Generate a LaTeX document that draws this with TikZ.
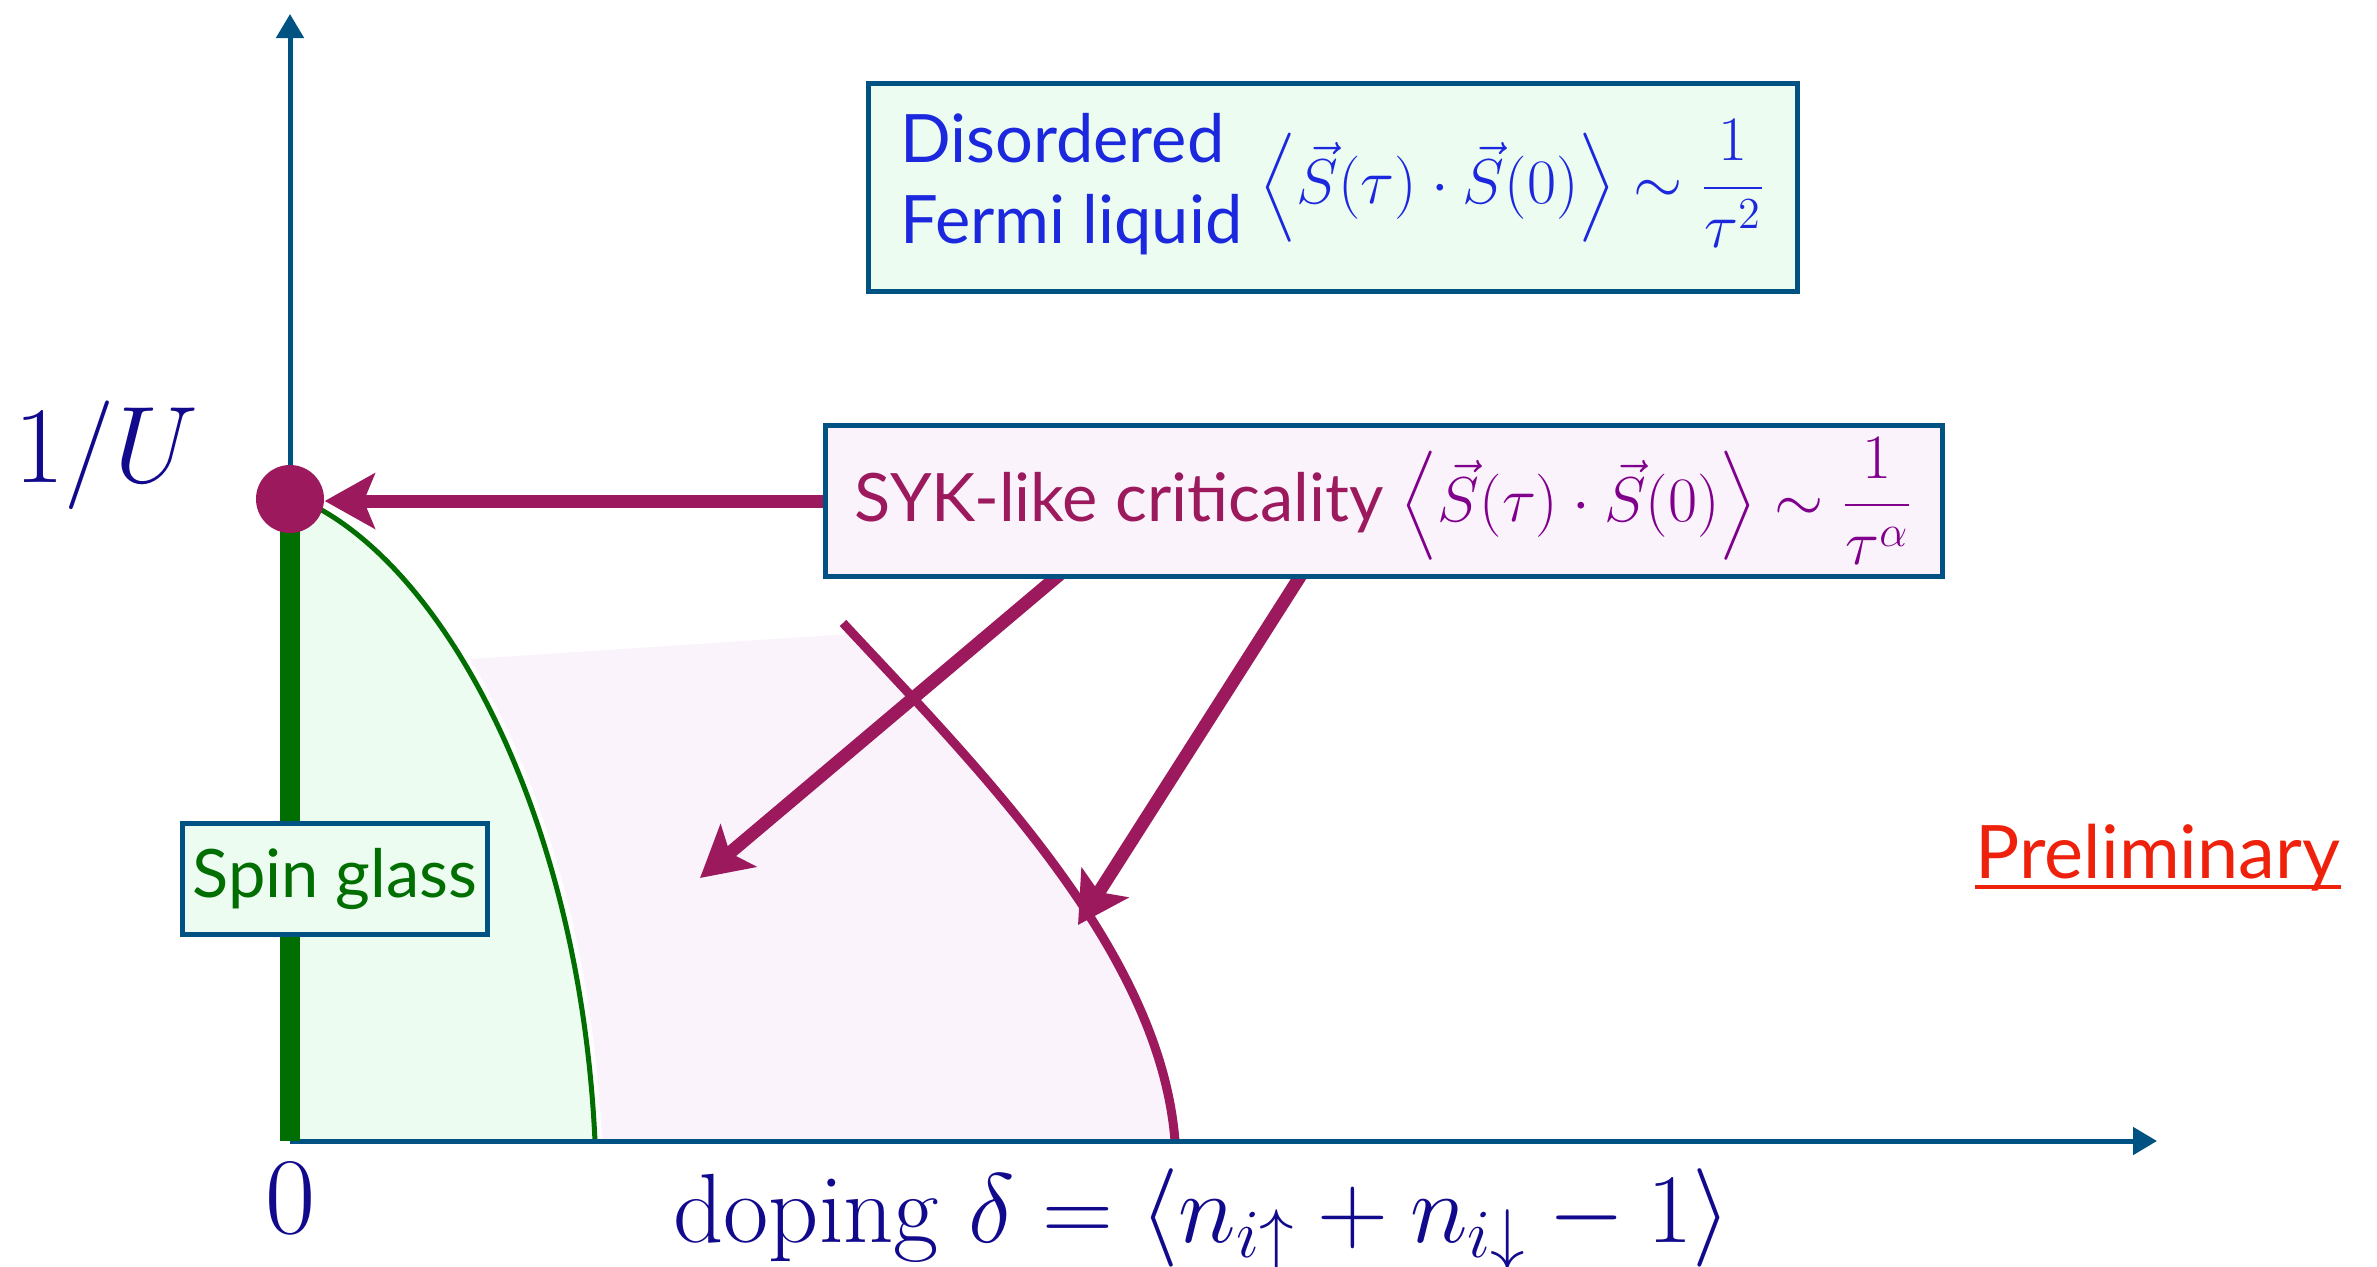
\RequirePackage{fix-cm}
\documentclass[tikz,border=0pt]{standalone}
\usepackage{amsmath}
\usepackage{fontspec}
\setsansfont{Lato}
\usetikzlibrary{arrows.meta,calc}

\pgfdeclarelayer{front}
\pgfsetlayers{main,front}

\definecolor{axisblue}{RGB}{0,82,130}
\definecolor{sykpurple}{RGB}{155,25,92}
\definecolor{sykmath}{RGB}{128,0,140}
\definecolor{sgreen}{RGB}{0,110,0}
\definecolor{greenfill}{RGB}{236,252,240}
\definecolor{pinkfill}{RGB}{250,243,252}
\definecolor{labelnavy}{RGB}{18,10,140}
\definecolor{fermiblue}{RGB}{28,40,222}
\definecolor{prelimred}{RGB}{238,34,12}

\newcommand\corrmath[1]{{\fontsize{18}{22}\selectfont$\displaystyle\left\langle\vec S(\tau)\cdot\vec S(0)\right\rangle\sim\frac{1}{#1}$}}

\tikzset{
  phasebox/.style={draw=axisblue, line width=0.5mm, inner sep=0pt,
    font=\sffamily\fontsize{19}{23}\selectfont},
  axisline/.style={draw=axisblue, line width=0.5mm,
    -{Triangle[length=2.4mm,width=2.7mm]}},
  sykarrow/.style={draw=sykpurple, line width=1.3mm,
    -{Stealth[length=5mm,width=5.5mm,inset=1.1mm]}},
  biglabel/.style={text=labelnavy, font=\fontsize{31}{37}\selectfont},
}

\begin{document}
\begin{tikzpicture}[x=0.1mm,y=-0.1mm]
  \useasboundingbox (0,0) rectangle (2377,1266);
  \coordinate (O) at (290,1141);
  \coordinate (ytip) at (290,14);
  \coordinate (xtip) at (2157,1141);
  \coordinate (crit) at (290,499);

  % SYK-like region
  \begin{scope}
    \clip (843,623) .. controls (980,770) and (1160,950) .. (1175,1141)
      -- (400,1141) -- (400,640) -- cycle;
    \fill[pinkfill] (455,660) -- (880,632) -- (1300,632) -- (1300,1141)
      -- (455,1141) -- cycle;
  \end{scope}

  % spin glass region
  \draw[white, line width=1.4mm] (318,508) .. controls (450,580) and (580,820) .. (595,1141);
  \fill[greenfill] (O) -- (crit) -- (318,508) .. controls (450,580) and (580,820) .. (595,1141) -- cycle;
  \draw[sgreen, line width=0.5mm] (318,508) .. controls (450,580) and (580,820) .. (595,1141);
  \draw[sykpurple, line width=0.9mm] (843,623) .. controls (980,770) and (1160,950) .. (1175,1141);

  % axes
  \draw[axisline] (O) -- (ytip);
  \draw[axisline] (O) -- (xtip);
  \draw[sgreen, line width=2mm] (crit) -- (O);
  \node[circle, fill=sykpurple, minimum size=6.8mm, inner sep=0pt] (dot) at (crit) {};

  \node[biglabel] (invU) at (106,455) {$1/U$};
  \node[biglabel] (zero) at (290,1198) {$0$};
  \node[text=labelnavy, font=\fontsize{28}{33}\selectfont] (doping) at (1202,1220)
    {$\text{doping }\delta=\left\langle n_{i\uparrow}+n_{i\downarrow}-1\right\rangle$};

  \begin{pgfonlayer}{front}
    \node[phasebox, fill=greenfill, text=fermiblue, minimum width=92.9mm, minimum height=20.8mm] (fermi) at (1333,187)
      {\begin{tabular}{@{}l@{}}Disordered\\Fermi liquid\end{tabular}\ \corrmath{\tau^2}};
    \node[phasebox, fill=pinkfill, text=sykpurple, minimum width=111.7mm, minimum height=15.1mm] (syk) at (1384,501)
      {SYK-like criticality\ {\color{sykmath}\corrmath{\tau^\alpha}}};
    \node[phasebox, fill=greenfill, text=sgreen, minimum width=30.5mm, minimum height=11.1mm] (glass) at (335,879) {Spin glass};
  \end{pgfonlayer}

  % arrows from the SYK box
  \coordinate (fanA) at (700,878);
  \coordinate (fanB) at (1078,925);
  \draw[sykarrow] (syk.west) -- (syk.west -| dot.east);
  \draw[sykarrow] ($(syk.south west)+(249,-15)$) -- (fanA);
  \draw[sykarrow] ($(syk.south west)+(485,-15)$) -- (fanB);

  \node[inner sep=0pt, text=prelimred, font=\sffamily\fontsize{21}{25}\selectfont] (prelim) at (2158,858) {Preliminary};
  \draw[prelimred, line width=0.4mm] ($(prelim.base west)+(0,8)$) -- ($(prelim.base east)+(0,8)$);
\end{tikzpicture}
\end{document}
